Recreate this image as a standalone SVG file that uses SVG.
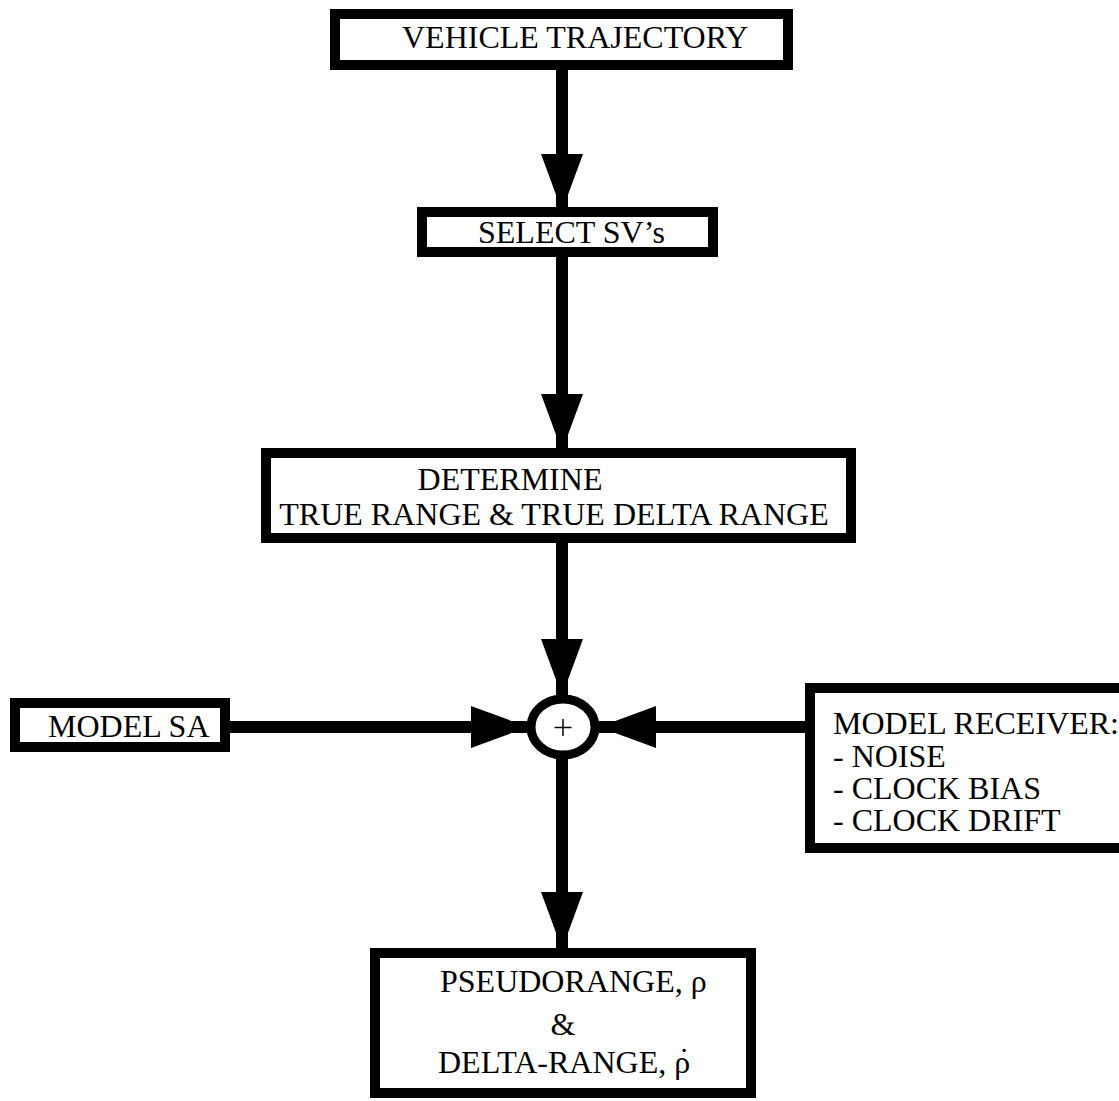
<svg xmlns="http://www.w3.org/2000/svg" width="1119" height="1101" viewBox="0 0 1119 1101">
<style>
.box{fill:#fff;stroke:#000;stroke-width:10}
.t{font-family:"Liberation Serif","Times New Roman",serif;font-size:32px;fill:#000}
.c{text-anchor:middle}
.ln{stroke:#000;stroke-width:12;fill:none}
</style>
<defs>
<marker id="ah" markerUnits="userSpaceOnUse" markerWidth="57" markerHeight="42" refX="57" refY="21" orient="auto">
<path d="M0,0 L57,21 L0,42 z" fill="#000"/>
</marker>
</defs>
<rect width="1119" height="1101" fill="#fff"/>
<g id="connectors">
<line class="ln" x1="562" y1="70" x2="562" y2="211" marker-end="url(#ah)"/>
<line class="ln" x1="562" y1="257" x2="562" y2="451" marker-end="url(#ah)"/>
<line class="ln" x1="562" y1="543" x2="562" y2="696" marker-end="url(#ah)"/>
<line class="ln" x1="230" y1="727" x2="528" y2="727" marker-end="url(#ah)"/>
<line class="ln" x1="806" y1="727" x2="599" y2="727" marker-end="url(#ah)"/>
<line class="ln" x1="562" y1="758" x2="562" y2="949" marker-end="url(#ah)"/>
</g>
<g id="vehicle">
<rect class="box" x="335" y="14" width="453" height="51"/>
<text class="t" x="402" y="48">VEHICLE TRAJECTORY</text>
</g>
<g id="select">
<rect class="box" x="422" y="212" width="291" height="40"/>
<text class="t" x="478" y="243">SELECT SV’s</text>
</g>
<g id="determine">
<rect class="box" x="266" y="453" width="585" height="85"/>
<text class="t c" x="510" y="490">DETERMINE</text>
<text class="t c" x="554" y="525">TRUE RANGE &amp; TRUE DELTA RANGE</text>
</g>
<g id="sum">
<ellipse cx="563" cy="727" rx="32" ry="28" fill="#fff" stroke="#000" stroke-width="9"/>
<line x1="563" y1="719" x2="563" y2="736" stroke="#000" stroke-width="1.5"/>
<line x1="554.5" y1="727.5" x2="571.5" y2="727.5" stroke="#000" stroke-width="1.5"/>
</g>
<g id="modelsa">
<rect class="box" x="15" y="703" width="210" height="44"/>
<text class="t" x="48" y="737">MODEL SA</text>
</g>
<g id="receiver">
<rect class="box" x="810" y="688" width="320" height="160"/>
<text class="t" x="833" y="734">MODEL RECEIVER:</text>
<text class="t" x="833" y="767">- NOISE</text>
<text class="t" x="833" y="799">- CLOCK BIAS</text>
<text class="t" x="833" y="831">- CLOCK DRIFT</text>
</g>
<g id="output">
<rect class="box" x="375" y="953" width="376" height="140"/>
<text class="t" x="440" y="992">PSEUDORANGE, ρ</text>
<text class="t c" x="563" y="1035">&amp;</text>
<text class="t" x="438" y="1073">DELTA-RANGE, ρ</text>
<text class="t c" x="684" y="1070">˙</text>
</g>
</svg>
